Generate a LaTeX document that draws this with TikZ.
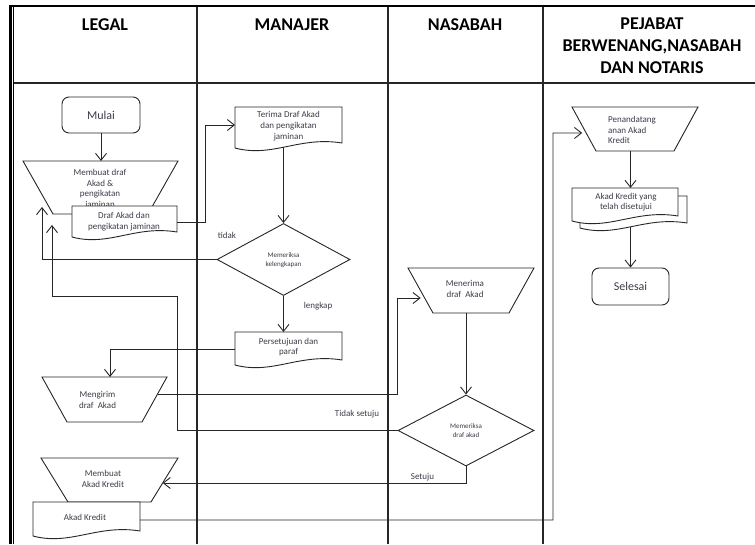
\documentclass[tikz,border=0pt]{standalone}
\usepackage{fontspec}
\setmainfont{Carlito}
\usetikzlibrary{arrows.meta,calc,shapes.geometric}
\definecolor{linec}{HTML}{262626}
\definecolor{textc}{HTML}{3C3C4A}

% trapezoid drawn over a named rectangular area node (wide side on top)
\newcommand\trapz[2]{%
  \coordinate (#1-tl) at (#1.north west);
  \coordinate (#1-tr) at (#1.north east);
  \coordinate (#1-br) at ($(#1.south east)+(-#2,0)$);
  \coordinate (#1-bl) at ($(#1.south west)+(#2,0)$);
  \draw[shp] (#1-tl) -- (#1-tr) -- (#1-br) -- (#1-bl) -- cycle;}
% document symbol with a wavy lower edge
\newcommand\docz[1]{%
  \draw[shp] (#1.north west) -- (#1.north east) -- ($(#1.south east)+(0,-7)$)
    .. controls ($(#1.south west)!0.6!(#1.south east)+(0,-14)$)
           and ($(#1.south west)!0.35!(#1.south east)+(0,8)$)
    .. ($(#1.south west)+(0,-2)$) -- cycle;}

\begin{document}
\begin{tikzpicture}[x=1pt,y=-1pt,
  shp/.style={draw=linec,line width=0.9pt,fill=white},
  area/.style={rectangle,draw=none,inner sep=0pt,outer sep=0pt},
  txt/.style={inner sep=0pt,align=center,text=textc,font=\fontsize{9}{10.7}\selectfont},
  small/.style={inner sep=0pt,align=center,text=textc,font=\fontsize{7}{9}\selectfont},
  lbl/.style={inner sep=0pt,text=textc,font=\fontsize{9}{10.7}\selectfont},
  head/.style={inner sep=0pt,align=center,text=black,font=\fontsize{18}{22}\selectfont\bfseries},
  term/.style={shp,rectangle,rounded corners=7pt,inner sep=0pt,text=textc,font=\fontsize{12}{14}\selectfont},
  dec/.style={shp,diamond,inner sep=0pt},
  arr/.style={draw=linec,line width=0.9pt,-{Straight Barb[length=7pt,width=11pt]}},
  frame/.style={draw=black},
  lane/.style={draw=linec,line width=1.5pt}]
\useasboundingbox (0,0) rectangle (755,544);

% swimlane frame
\draw[frame,line width=2.4pt] (9.3,6) -- (755,6);
\draw[frame,line width=2.2pt] (10.5,5) -- (10.5,544);
\draw[frame,line width=1.2pt] (13.4,7) -- (13.4,544);
\draw[lane,line width=1.7pt] (14,83) -- (755,83);
\foreach \x in {196.8,388,542.8} \draw[lane] (\x,7) -- (\x,544);

% lane titles
\node[head] (h-legal) at (105,25) {LEGAL};
\node[head] (h-man) at (292,25) {MANAJER};
\node[head] (h-nas) at (465,25) {NASABAH};
\node[head] (h-pej) at (652,46) {PEJABAT\\BERWENANG,NASABAH\\DAN NOTARIS};

% LEGAL
\node[term,minimum width=78pt,minimum height=36pt] (mulai) at (101,115) {Mulai};
\node[area,minimum width=155pt,minimum height=53pt] (mdraf) at (100.5,187.5) {};
\trapz{mdraf}{30}
\node[txt] (mdraf-t) at (100,189) {Membuat draf\\Akad \&\\pengikatan\\jaminan};
\node[area,minimum width=105pt,minimum height=33pt] (dadoc) at (124.5,222.5) {};
\docz{dadoc}
\node[txt] (dadoc-t) at (124,221.5) {Draf Akad dan\\pengikatan jaminan};

\node[area,minimum width=125pt,minimum height=45pt] (mengirim) at (104.5,399.5) {};
\trapz{mengirim}{25}
\node[txt] (mengirim-t) at (97.5,400) {Mengirim\\draf\ \ Akad};

\node[area,minimum width=137pt,minimum height=44pt] (makad) at (109.5,480) {};
\trapz{makad}{27}
\node[txt] (makad-t) at (103,479) {Membuat\\Akad Kredit};
\node[area,minimum width=107pt,minimum height=36pt] (akad) at (86.5,520) {};
\docz{akad}
\node[txt] (akad-t) at (85,517) {Akad Kredit};

% MANAJER
\node[area,minimum width=107pt,minimum height=43pt] (terima) at (288.5,128.5) {};
\docz{terima}
\node[txt] (terima-t) at (288.5,126) {Terima Draf Akad\\dan pengikatan\\jaminan};
\node[dec,minimum width=133pt,minimum height=72pt] (cek1) at (283.5,259.5) {};
\node[small] (cek1-t) at (283.5,260) {Memeriksa\\kelengkapan};
\node[area,minimum width=107pt,minimum height=35pt] (persetujuan) at (288.5,349.5) {};
\docz{persetujuan}
\node[txt] (persetujuan-t) at (288.5,347) {Persetujuan dan\\paraf};

% NASABAH
\node[area,minimum width=126pt,minimum height=45pt] (menerima) at (471,290.5) {};
\trapz{menerima}{25}
\node[txt] (menerima-t) at (465,289) {Menerima\\draf\ \ Akad};
\node[dec,minimum width=136pt,minimum height=71pt] (cek2) at (466,430.5) {};
\node[small] (cek2-t) at (466,431) {Memeriksa\\draf akad};

% PEJABAT BERWENANG, NASABAH DAN NOTARIS
\node[area,minimum width=126pt,minimum height=44pt] (penanda) at (635,129) {};
\trapz{penanda}{24}
\node[txt,align=left] (penanda-t) at (632,130) {Penandatang\\anan Akad\\Kredit};
\node[area,minimum width=107pt,minimum height=34pt] (akadokb) at (633.5,213) {};
\docz{akadokb}
\node[area,minimum width=106pt,minimum height=35pt] (akadok) at (625,205.5) {};
\docz{akadok}
\node[txt] (akadok-t) at (626,202) {Akad Kredit yang\\telah disetujui};
\node[term,minimum width=77pt,minimum height=37pt] (selesai) at (630.5,286.5) {Selesai};

% connector end points
\coordinate (tr-in) at ($(terima.west)+(0,-3.5)$);
\coordinate (td-end) at (42,207);
\coordinate (mg-in) at ($(mengirim.north)+(5.5,0)$);
\coordinate (mk-out) at ($(mengirim-tr)!0.378!(mengirim-br)$);
\coordinate (mn-in) at ($(menerima-tl)!0.667!(menerima-bl)$);
\coordinate (ts-bend) at (177,296);
\coordinate (ts-end) at (52,225);
\coordinate (mak-in) at ($(makad-tr)!0.568!(makad-br)$);
\coordinate (pd-in) at ($(penanda-tl)!0.59!(penanda-bl)$);
\coordinate (ak-up) at (553,133);

% flow
\draw[arr] (mulai.south) -- (mulai.south |- mdraf.north);
\draw[arr] (dadoc.east) -- ++(28,0) |- (tr-in);
\draw[arr] ($(cek1.north |- terima.south)+(0,-3)$) -- (cek1.north);
\draw[arr] (cek1.west) -| (td-end);
\draw[arr] (cek1.south) -- (cek1.south |- persetujuan.north);
\draw[arr] (persetujuan.west) -| (mg-in);
\draw[arr,shorten >=4pt] (mk-out) -| (cek2.west |- mn-in) -- (mn-in);
\draw[arr] (cek2.north |- menerima.south) -- (cek2.north);
\draw[arr] (cek2.west) -| (ts-bend) -| (ts-end);
\draw[arr] (cek2.south) |- (mak-in);
\draw[arr,shorten >=4pt] (akad.east) -| (ak-up) -- (pd-in);
\draw[arr] (penanda.south -| selesai.north) -- (akadok.north -| selesai.north);
\draw[arr] ($(akadokb.south -| selesai.north)+(0,-3)$) -- (selesai.north);

% branch labels
\node[lbl] (l-tidak) at (227,235) {tidak};
\node[lbl] (l-lengkap) at (318,306) {lengkap};
\node[lbl] (l-tsetuju) at (357,414) {Tidak setuju};
\node[lbl] (l-setuju) at (422.5,477) {Setuju};
\end{tikzpicture}
\end{document}
